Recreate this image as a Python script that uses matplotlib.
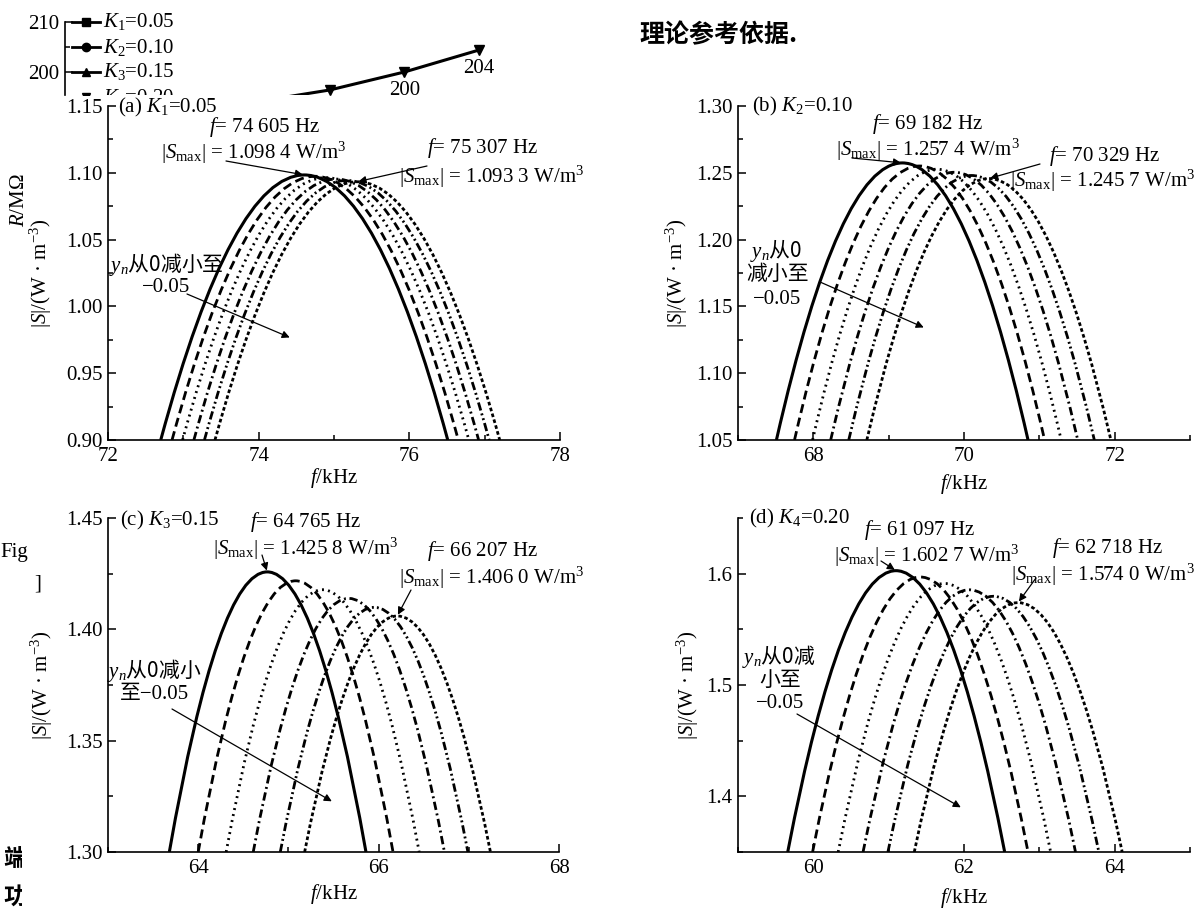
import matplotlib
matplotlib.use("Agg")
import matplotlib.pyplot as plt
from matplotlib.path import Path
from matplotlib.patches import PathPatch
from matplotlib.ticker import FixedLocator, MultipleLocator, FormatStrFormatter

plt.rcParams['font.family'] = ['Liberation Serif', 'Noto Sans CJK SC', 'DejaVu Sans']
plt.rcParams['mathtext.fontset'] = 'custom'
plt.rcParams['mathtext.rm'] = 'Liberation Serif'
plt.rcParams['mathtext.it'] = 'Liberation Serif:italic'
plt.rcParams['mathtext.bf'] = 'Liberation Serif:bold'
plt.rcParams['lines.scale_dashes'] = False

# ---------------------------------------------------------------------------
# Data. Each panel has six resonance curves (y_n going
# from 0 down to -0.05). For every curve: the frequency where it leaves the
# bottom of the axes (left / right foot, kHz) and its peak (f, |S|).
# ---------------------------------------------------------------------------

# (a) K1 = 0.05
a_floor = 0.90
a_left = [72.70, 72.85, 72.99, 73.14, 73.28, 73.42]
a_fpk = [74.605, 74.75, 74.89, 75.03, 75.17, 75.307]
a_spk = [1.0984, 1.0974, 1.0964, 1.0953, 1.0943, 1.0933]
a_right = [76.51, 76.65, 76.79, 76.92, 77.06, 77.20]

# (b) K2 = 0.10
b_floor = 1.05
b_left = [67.51, 67.75, 67.99, 68.23, 68.47, 68.71]
b_fpk = [69.182, 69.41, 69.64, 69.87, 70.10, 70.329]
b_spk = [1.2574, 1.2551, 1.2527, 1.2504, 1.2480, 1.2457]
b_right = [70.85, 71.07, 71.29, 71.51, 71.73, 71.95]

# (c) K3 = 0.15
c_floor = 1.30
c_left = [63.68, 64.00, 64.31, 64.61, 64.91, 65.18]
c_fpk = [64.765, 65.08, 65.38, 65.67, 65.95, 66.207]
c_spk = [1.4258, 1.4218, 1.4178, 1.4139, 1.4099, 1.4060]
c_right = [65.86, 66.16, 66.45, 66.73, 66.99, 67.24]

# (d) K4 = 0.20
d_floor = 1.35
d_left = [59.66, 59.99, 60.33, 60.66, 60.99, 61.34]
d_fpk = [61.097, 61.42, 61.74, 62.07, 62.39, 62.718]
d_spk = [1.6027, 1.5970, 1.5912, 1.5855, 1.5797, 1.5740]
d_right = [62.54, 62.85, 63.15, 63.48, 63.79, 64.10]

# tick values
a_xticks, a_yticks = [72, 74, 76, 78], [0.90, 0.95, 1.00, 1.05, 1.10, 1.15]
b_xticks, b_yticks = [68, 70, 72], [1.05, 1.10, 1.15, 1.20, 1.25, 1.30]
c_xticks, c_yticks = [64, 66, 68], [1.30, 1.35, 1.40, 1.45]
d_xticks, d_yticks = [60, 62, 64], [1.4, 1.5, 1.6]

# printed peak values (first and last curve)
a_peaks = [("74 605", "1.098 4"), ("75 307", "1.093 3")]
b_peaks = [("69 182", "1.257 4"), ("70 329", "1.245 7")]
c_peaks = [("64 765", "1.425 8"), ("66 207", "1.406 0")]
d_peaks = [("61 097", "1.602 7"), ("62 718", "1.574 0")]

# fragment of the neighbouring figure that shows at the top left
ghost_x = [0, 1, 2, 3]
ghost_r = [194.0, 196.4, 200.0, 204.4]
ghost_lbl = ["", "196", "200", "204"]
ghost_yticks = [200, 210]
ghost_legend = ["$K_1$=0.05", "$K_2$=0.10", "$K_3$=0.15", "$K_4$=0.20"]

# ---------------------------------------------------------------------------
W, H = 1195, 908
fig = plt.figure(figsize=(W / 100, H / 100), dpi=100)
fig.patch.set_facecolor("white")

def fpos(x, y):
    # pixel position (from top left) -> figure fraction
    return (x / W, 1 - y / H)

def ftext(x, y, s, size=15, ha="center", va="center", **kw):
    fig.text(x / W, 1 - y / H, s, fontsize=size, ha=ha, va=va, **kw)

def resonance(left, fpk, spk, right, floor):
    # two parabolic arcs (quadratic Bezier) meeting flat at the peak
    verts = [(left, floor), ((left + fpk) / 2, spk), (fpk, spk),
             ((fpk + right) / 2, spk), (right, floor)]
    codes = [Path.MOVETO, Path.CURVE3, Path.CURVE3, Path.CURVE3, Path.CURVE3]
    return Path(verts, codes)

ARROW = dict(arrowstyle="-|>", color="black", lw=0.9, mutation_scale=11,
             shrinkA=0, shrinkB=1)

styles = [
    dict(ls="-", lw=2.2),
    dict(ls=(0, (6.5, 3.5)), lw=2.0),
    dict(ls=(0, (1.4, 3.0)), lw=2.0),
    dict(ls=(0, (6.0, 2.6, 1.4, 2.6)), lw=2.0),
    dict(ls=(0, (6.0, 2.2, 1.4, 2.2, 1.4, 2.2)), lw=2.0),
    dict(ls=(0, (2.6, 1.8)), lw=2.0),
]

CJK = ["Noto Sans CJK SC"]

panels = [
    dict(box=(108, 106, 560, 440), xlim=(72, 78), ylim=(0.90, 1.15),
         xt=a_xticks, yt=a_yticks, ymin=0.025, yfmt="%.2f",
         curves=(a_left, a_fpk, a_spk, a_right), floor=a_floor,
         peaks=a_peaks, title="(a) $K_1$=0.05",
         ylp=8.5, xlp=0,
         title_at=(118, 107),
         p1=((265, 127), (254, 153), (226, 161)),
         p2=((483, 148), (492, 177), (427, 166)),
         yn=[((166, 265), "$y_n$从0减小至", CJK), ((166, 288), "−0.05", None)],
         yn_arrow=((187, 294), (291, 338))),
    dict(box=(738, 106, 1190, 440), xlim=(67, 73), ylim=(1.05, 1.30),
         xt=b_xticks, yt=b_yticks, ymin=0.025, yfmt="%.2f",
         curves=(b_left, b_fpk, b_spk, b_right), floor=b_floor,
         peaks=b_peaks, title="(b) $K_2$=0.10",
         ylp=4, xlp=4,
         title_at=(752, 106),
         p1=((928, 124), (928, 150), (852, 158)),
         p2=((1105, 156), (1103, 181), (1040, 164)),
         yn=[((776, 250), "$y_n$从0", CJK), ((778, 275), "减小至", None),
             ((777, 299), "−0.05", None)],
         yn_arrow=((820, 282), (925, 328))),
    dict(box=(108, 518, 559, 852), xlim=(63, 68), ylim=(1.30, 1.45),
         xt=c_xticks, yt=c_yticks, ymin=0.025, yfmt="%.2f",
         curves=(c_left, c_fpk, c_spk, c_right), floor=c_floor,
         peaks=c_peaks, title="(c) $K_3$=0.15",
         ylp=8, xlp=3,
         title_at=(120, 520),
         p1=((306, 522), (306, 549), (262, 555)),
         p2=((483, 551), (492, 578), (411, 590)),
         yn=[((154, 671), "$y_n$从0减小", CJK), ((154, 695), "至−0.05", None)],
         yn_arrow=((172, 709), (333, 802))),
    dict(box=(738, 518, 1190, 852), xlim=(59, 65), ylim=(1.35, 1.65),
         xt=d_xticks, yt=d_yticks, ymin=0.05, yfmt="%.1f",
         curves=(d_left, d_fpk, d_spk, d_right), floor=d_floor,
         peaks=d_peaks, title="(d) $K_4$=0.20",
         ylp=4, xlp=6,
         title_at=(749, 518),
         p1=((920, 530), (927, 556), (881, 561)),
         p2=((1108, 548), (1103, 575), (1036, 578)),
         yn=[((779, 657), "$y_n$从0减", CJK), ((780, 681), "小至", None),
             ((780, 704), "−0.05", None)],
         yn_arrow=((797, 714), (962, 808))),
]

for p in panels:
    x0, y0, x1, y1 = p["box"]
    ax = fig.add_axes([x0 / W, 1 - y1 / H, (x1 - x0) / W, (y1 - y0) / H])
    ax.patch.set_alpha(0)

    lefts, fpks, spks, rights = p["curves"]
    for l, fp, sp, r, st in zip(lefts, fpks, spks, rights, styles):
        ax.add_patch(PathPatch(resonance(l, fp, sp, r, p["floor"]), fill=False,
                               edgecolor="black", linewidth=st["lw"],
                               linestyle=st["ls"], capstyle="butt"))

    ax.set_xlim(p["xlim"])
    ax.set_ylim(p["ylim"])
    ax.xaxis.set_major_locator(FixedLocator(p["xt"]))
    ax.yaxis.set_major_locator(FixedLocator(p["yt"]))
    ax.xaxis.set_minor_locator(MultipleLocator(1))
    ax.yaxis.set_minor_locator(MultipleLocator(p["ymin"]))
    ax.xaxis.set_major_formatter(FormatStrFormatter("%d"))
    ax.yaxis.set_major_formatter(FormatStrFormatter(p["yfmt"]))

    for side in ("top", "right"):
        ax.spines[side].set_visible(False)
    for side in ("left", "bottom"):
        ax.spines[side].set_linewidth(1.2)
    ax.tick_params(which="both", direction="in", top=False, right=False,
                   width=1.1, colors="black")
    ax.tick_params(which="major", length=6, labelsize=15)
    ax.tick_params(axis="x", which="major", pad=5)
    ax.tick_params(axis="y", which="major", pad=4)
    ax.tick_params(which="minor", length=3.5)

    ax.set_xlabel("$f$/kHz", fontsize=15, labelpad=p["xlp"])
    ax.set_ylabel("|$S$|/(W · m$^{-3}$)", fontsize=15, labelpad=p["ylp"])

    tx, ty = p["title_at"]
    ftext(tx, ty, p["title"], ha="left")

    # peak labels and arrows
    tips = ((fpks[0], spks[0]), (fpks[-1], spks[-1]))
    for (fz, smax), pos, tip in zip(p["peaks"], (p["p1"], p["p2"]), tips):
        (fx, fy), (sx, sy), tail = pos
        ftext(fx, fy, "$f$= %s Hz" % fz)
        ftext(sx, sy, "|$S_\\mathrm{max}$| = %s W/m$^3$" % smax)
        ax.annotate("", xy=tip, xycoords="data", xytext=fpos(*tail),
                    textcoords="figure fraction", arrowprops=ARROW,
                    annotation_clip=False)

    for (lx, ly), s, fam in p["yn"]:
        if fam:
            ftext(lx, ly, s, family=fam)
        else:
            ftext(lx, ly, s)
    tail, head = p["yn_arrow"]
    ax.annotate("", xy=fpos(*head), xycoords="figure fraction",
                xytext=fpos(*tail), textcoords="figure fraction",
                arrowprops=ARROW, annotation_clip=False)

# ---- neighbouring figure fragment (cut off by panel a) ----
GH = 95
g_bottom = 200 - (GH - 72) / 5
axg = fig.add_axes([0, 1 - GH / H, 600 / W, GH / H])
axg.patch.set_alpha(0)
axg.set_xlim(-3.414, 4.619)
axg.set_ylim(g_bottom, 200 + 72 / 5)
for side in ("top", "right", "bottom"):
    axg.spines[side].set_visible(False)
axg.spines["left"].set_position(("axes", 65 / 600))
axg.spines["left"].set_bounds(g_bottom, 210)
axg.spines["left"].set_linewidth(1.2)
axg.set_xticks([])
axg.yaxis.set_major_locator(FixedLocator(ghost_yticks))
axg.yaxis.set_minor_locator(FixedLocator([205]))
axg.tick_params(which="both", direction="in", width=1.1)
axg.tick_params(which="major", length=6, labelsize=15, pad=4)
axg.tick_params(which="minor", length=3.5)
axg.plot(ghost_x, ghost_r, color="black", lw=2.2, marker="v", ms=7,
         clip_on=True)
for gx, gr, gl in zip(ghost_x, ghost_r, ghost_lbl):
    if gl:
        axg.annotate(gl, xy=(gx, gr), xytext=(0, -13), textcoords="offset points",
                     ha="center", va="center", fontsize=15,
                     annotation_clip=False, clip_on=True)
for i, (lab, mk) in enumerate(zip(ghost_legend, ["s", "o", "^", "v"])):
    yy = 1 - (22 + 25 * i) / GH
    axg.plot([72 / 600, 86 / 600, 100 / 600], [yy] * 3, color="black", lw=2,
             marker=mk, ms=6, markevery=[1], transform=axg.transAxes,
             clip_on=True)
    axg.text(103 / 600, yy, lab, transform=axg.transAxes, fontsize=15,
             ha="left", va="center", clip_on=True)

ftext(20, 200, "$R$/MΩ", rotation=90)

# page text around the figure
ftext(718, 35, "理论参考依据.", size=18, family=CJK, weight="bold")
ftext(0, 552, "Fig", ha="left")
ftext(38, 584, "]")
axl = fig.add_axes([0, 0, 22 / W, 1])
axl.set_axis_off()
axl.set_xlim(0, 22)
axl.set_ylim(H, 0)
axl.text(3, 860, "端", fontsize=17, family=CJK, weight="bold",
         ha="left", va="center", clip_on=True)
axl.text(3, 897, "功", fontsize=17, family=CJK, weight="bold",
         ha="left", va="center", clip_on=True)

fig.savefig("out.png", dpi=100, facecolor="white")
